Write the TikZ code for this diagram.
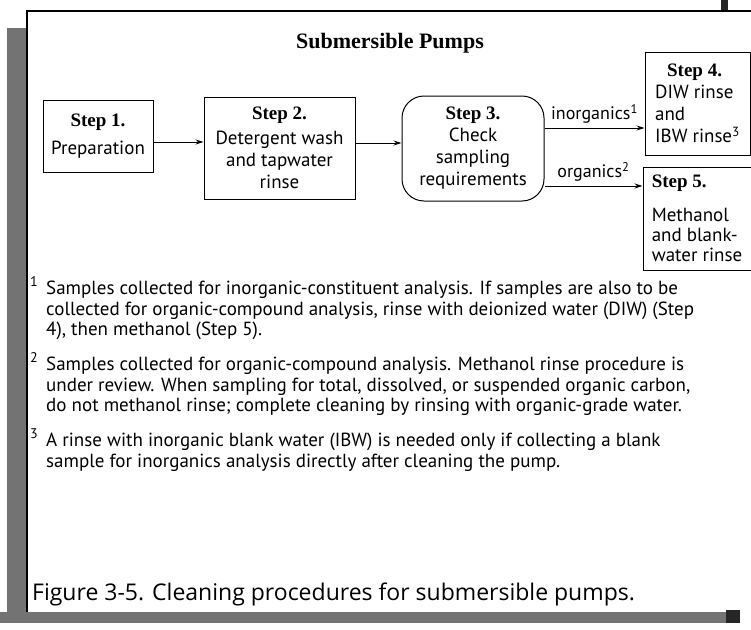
\documentclass[tikz,border=0pt]{standalone}
\usepackage{fontspec}
\setmainfont{PT Sans}
\newfontfamily\hdfont{Liberation Serif}
\newfontfamily\capfont{Open Sans}
\usetikzlibrary{arrows.meta}
\newcommand{\hd}[1]{{\hdfont\bfseries #1}}
\begin{document}
\begin{tikzpicture}[x=1pt,y=-1pt,
  box/.style={draw, line width=1pt, inner sep=0pt, align=center, font=\fontsize{19}{22}\selectfont},
  arr/.style={-{Stealth[length=8pt,width=5pt]}, line width=0.9pt},
  lbl/.style={font=\fontsize{18}{20}\selectfont, inner sep=1pt},
  fn/.style={anchor=north west, align=left, font=\fontsize{19}{20.5}\selectfont, inner sep=0pt},
  fnum/.style={anchor=north west, font=\fontsize{14}{15}\selectfont, inner sep=0pt},
]
\useasboundingbox (0,0) rectangle (751,629);
\fill[white] (0,0) rectangle (751,629);
% scan border
\fill[black!55] (7,28) rectangle (27,623);
\fill[black!55] (0,612) rectangle (740,623);
\fill[black!85] (726,610) rectangle (740,623);
\fill[black!85] (721,0) rectangle (728,12);
\draw[line width=1.2pt] (27,612) -- (27,11) -- (751,11);

\node[font=\hdfont\bfseries\fontsize{22}{24}\selectfont] (title) at (390,43) {Submersible Pumps};

\node[box, minimum width=110pt, minimum height=72pt] (s1) at (98,136) {\hd{Step 1.}\\[6pt]Preparation};
\node[box, minimum width=151pt, minimum height=102pt] (s2) at (279.5,148) {\hd{Step 2.}\\[3pt]Detergent wash\\and tapwater\\rinse};
\node[box, rounded corners=22pt, minimum width=142pt, minimum height=105pt] (s3) at (473,148.5) {\hd{Step 3.}\\Check\\sampling\\requirements};
\node[box, align=left, minimum width=105pt, minimum height=103pt] (s4) at (697.5,103.5) {\hspace*{12pt}\hd{Step 4.}\\DIW rinse\\and\\IBW rinse\textsuperscript{3}};
\node[box, align=left, minimum width=108pt, minimum height=103pt] (s5) at (697,218.5) {\hd{Step 5.}\\[12pt]Methanol\\[-2pt]and blank-\\[-2pt]water rinse};

\coordinate (y1) at (0,142);
\coordinate (y2) at (0,143);
\coordinate (y3) at (0,128);
\coordinate (y4) at (0,186);
\draw[arr] (s1.east |- y1) -- (s2.west |- y1);
\draw[arr] (s2.east |- y2) -- (s3.west |- y2);
\draw[arr] (s3.east |- y3) -- node[lbl, above=3pt] (l1) {inorganics\textsuperscript{1}} (s4.west |- y3);
\draw[arr] (s3.east |- y4) -- node[lbl, above=3pt] (l2) {organics\textsuperscript{2}} (s5.west |- y4);

\node[fnum] (n1) at (30,276) {1};
\node[fn] (f1) at (46,281) {Samples collected for inorganic-constituent analysis. If samples are also to be\\collected for organic-compound analysis, rinse with deionized water (DIW) (Step\\4), then methanol (Step 5).};
\node[fnum] (n2) at (30,352) {2};
\node[fn] (f2) at (46,357) {Samples collected for organic-compound analysis. Methanol rinse procedure is\\under review. When sampling for total, dissolved, or suspended organic carbon,\\do not methanol rinse; complete cleaning by rinsing with organic-grade water.};
\node[fnum] (n3) at (30,428) {3};
\node[fn] (f3) at (46,433) {A rinse with inorganic blank water (IBW) is needed only if collecting a blank\\sample for inorganics analysis directly after cleaning the pump.};

\node[anchor=base west, font=\capfont\fontsize{23}{26}\selectfont, inner sep=0pt] (cap) at (32,600) {Figure 3-5. Cleaning procedures for submersible pumps.};
\end{tikzpicture}
\end{document}
